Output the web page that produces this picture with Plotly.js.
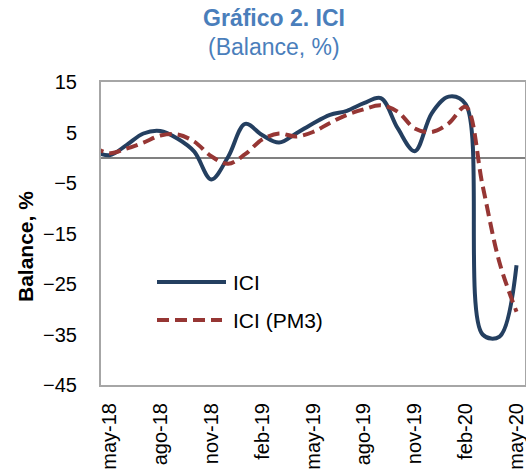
<!DOCTYPE html>
<html>
<head>
<meta charset="utf-8">
<script src="https://cdn.plot.ly/plotly-3.0.1.min.js"></script>
<style>html,body{margin:0;padding:0;background:#fff;}#chart{width:526px;height:471px;}</style>
</head>
<body>
<div id="chart"></div>
<script>
// Months (abr-18 is only partly visible at the left edge, clipped by the axis range)
var months = ['abr-18','may-18','jun-18','jul-18','ago-18','sep-18','oct-18','nov-18','dic-18',
              'ene-19','feb-19','mar-19','abr-19','may-19','jun-19','jul-19','ago-19','sep-19',
              'oct-19','nov-19','dic-19','ene-20','feb-20','mar-20','abr-20','may-20'];
var ici    = [1.5, 0.5, 2.5, 4.8, 5.3, 3.8, 1.2, -4.3, 0.2,
              6.7, 4.5, 3.0, 4.8, 6.8, 8.5, 9.3, 10.8, 11.8,
              5.8, 1.3, 8.8, 12.1, 10.6, -35.0, -35.4, -21.3];
var icipm3 = [2.3, 0.9, 1.8, 3.0, 4.4, 4.6, 3.2, 0.3, -1.2,
              0.7, 3.6, 4.8, 4.2, 5.1, 6.9, 8.5, 9.6, 10.4,
              9.1, 5.8, 5.1, 6.8, 10.1, -5.5, -20.8, -30.5];
var tickLabels = ['may-18','ago-18','nov-18','feb-19','may-19','ago-19','nov-19','feb-20','may-20'];
var seriesNames = ['ICI', 'ICI (PM3)'];

var W = 526, H = 471, ML = 101, MR = 1, MT = 82, MB = 86;
var PW = W - ML - MR, PH = H - MT - MB;
function px(x){ return (x - ML) / PW; }
function py(y){ return (H - MB - y) / PH; }

var FONT = '"Liberation Sans", Arial, sans-serif';
var NAVY = '#243F60', RED = '#963634', TBLUE = '#4A7EBB';

var traces = [
  {x: months, y: ici, name: seriesNames[0], type: 'scatter', mode: 'lines',
   line: {color: NAVY, width: 4, shape: 'spline', smoothing: 1}},
  {x: months, y: icipm3, name: seriesNames[1], type: 'scatter', mode: 'lines',
   line: {color: RED, width: 4, dash: '12px,6px', shape: 'spline', smoothing: 1}}
];

var layout = {
  width: W, height: H,
  margin: {l: ML, r: MR, t: MT, b: MB, pad: 0},
  paper_bgcolor: '#ffffff', plot_bgcolor: '#ffffff',
  showlegend: false,
  font: {family: FONT, color: '#000000'},
  title: {text: '<b>Gráfico 2. ICI</b>',
          font: {family: FONT, size: 23, color: TBLUE},
          x: 274 / W, xanchor: 'center', xref: 'container',
          y: 1 - 18 / H, yanchor: 'middle', yref: 'container'},
  xaxis: {type: 'category', categoryorder: 'array', categoryarray: months,
          range: [0.5, months.length - 0.5],
          tickmode: 'array', tickvals: tickLabels, ticktext: tickLabels,
          tickangle: -90, tickfont: {family: FONT, size: 20, color: '#000'},
          ticks: '', ticklabelstandoff: 8,
          showgrid: false, zeroline: false,
          showline: true, mirror: true, linecolor: '#A6A6A6', linewidth: 2},
  yaxis: {range: [-45, 15], tick0: 5, dtick: 10,
          tickfont: {family: FONT, size: 20, color: '#000'},
          ticks: '', ticklabelstandoff: 18,
          showgrid: false,
          zeroline: true, zerolinecolor: '#808080', zerolinewidth: 2,
          showline: true, mirror: true, linecolor: '#A6A6A6', linewidth: 2},
  annotations: [
    {text: '(Balance, %)', xref: 'paper', yref: 'paper',
     x: px(274), y: py(47), xanchor: 'center', yanchor: 'middle', showarrow: false,
     font: {family: FONT, size: 23, color: TBLUE}},
    {text: '<b>Balance, %</b>', textangle: -90, xref: 'paper', yref: 'paper',
     x: px(25), y: py(247), xanchor: 'center', yanchor: 'middle', showarrow: false,
     font: {family: FONT, size: 21, color: '#000'}},
    {text: seriesNames[0], xref: 'paper', yref: 'paper', x: px(231), y: py(282),
     xanchor: 'left', yanchor: 'middle', showarrow: false,
     font: {family: FONT, size: 21, color: '#000'}},
    {text: seriesNames[1], xref: 'paper', yref: 'paper', x: px(231), y: py(320),
     xanchor: 'left', yanchor: 'middle', showarrow: false,
     font: {family: FONT, size: 21, color: '#000'}}
  ],
  shapes: [
    {type: 'line', xref: 'paper', yref: 'paper', x0: px(157), x1: px(226), y0: py(282), y1: py(282),
     line: {color: NAVY, width: 4}},
    {type: 'line', xref: 'paper', yref: 'paper', x0: px(157), x1: px(222), y0: py(320), y1: py(320),
     line: {color: RED, width: 4, dash: '12px,6px'}}
  ]
};

Plotly.newPlot('chart', traces, layout, {displayModeBar: false, staticPlot: true});
</script>
</body>
</html>
